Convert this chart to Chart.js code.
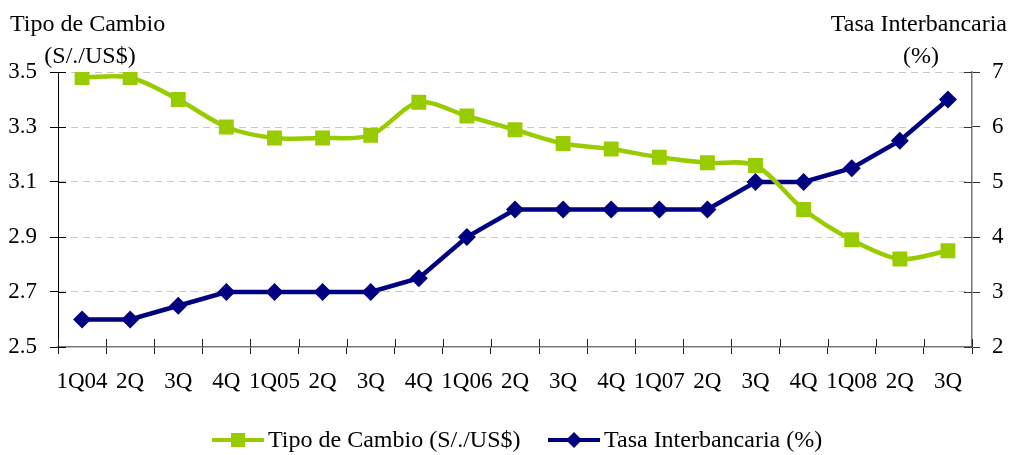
<!DOCTYPE html>
<html>
<head>
<meta charset="utf-8">
<script src="https://cdn.jsdelivr.net/npm/chart.js@4.4.1/dist/chart.umd.min.js"></script>
<style>
html,body{margin:0;padding:0;background:#fff;}
#wrap{width:1010px;height:455px;position:relative;}
</style>
</head>
<body>
<div id="wrap"><canvas id="c" width="1010" height="455"></canvas></div>
<script>
const categories = ["1Q04","2Q","3Q","4Q","1Q05","2Q","3Q","4Q","1Q06","2Q","3Q","4Q","1Q07","2Q","3Q","4Q","1Q08","2Q","3Q"];
const tipoCambio = [3.48,3.48,3.40,3.30,3.26,3.26,3.27,3.39,3.34,3.29,3.24,3.22,3.19,3.17,3.16,3.00,2.89,2.82,2.85];
const tasaInterbancaria = [2.5,2.5,2.75,3.0,3.0,3.0,3.0,3.25,4.0,4.5,4.5,4.5,4.5,4.5,5.0,5.0,5.25,5.75,6.5];
const leftTicks = [2.5,2.7,2.9,3.1,3.3,3.5];
const rightTicks = [2,3,4,5,6,7];
const seriesNames = ["Tipo de Cambio (S/./US$)","Tasa Interbancaria (%)"];
const leftTitle = ["Tipo de Cambio","(S/./US$)"];
const rightTitle = ["Tasa Interbancaria","(%)"];

const GREEN = '#99CC00', BLUE = '#000080';
const FONT = '"Liberation Serif", "DejaVu Serif", serif';
const FS = 23;

const titlesPlugin = {
  id: 'titles',
  afterDraw(chart) {
    const ctx = chart.ctx;
    const a = chart.chartArea;
    ctx.save();
    // inner halves of crossing tick marks
    ctx.lineWidth = 1;
    ctx.strokeStyle = '#222';
    for (let i = 0; i <= categories.length; i++) {
      const px = Math.round(a.left + (a.right - a.left) * i / categories.length) + 0.5;
      ctx.beginPath(); ctx.moveTo(px, a.bottom - 8); ctx.lineTo(px, a.bottom); ctx.stroke();
    }
    const ys = chart.scales.y;
    ctx.strokeStyle = '#000';
    leftTicks.forEach(v => {
      const py = Math.round(ys.getPixelForValue(v)) + 0.5;
      ctx.beginPath(); ctx.moveTo(a.left, py); ctx.lineTo(a.left + 8, py); ctx.stroke();
    });
    const ys1 = chart.scales.y1;
    ctx.strokeStyle = '#333';
    rightTicks.forEach(v => {
      const py = Math.round(ys1.getPixelForValue(v)) + 0.5;
      ctx.beginPath(); ctx.moveTo(a.right - 8, py); ctx.lineTo(a.right, py); ctx.stroke();
    });

    ctx.fillStyle = '#000';
    ctx.font = (FS + 1) + 'px ' + FONT;
    ctx.textBaseline = 'alphabetic';
    ctx.textAlign = 'left';
    ctx.fillText(leftTitle[0], 10, 31);
    ctx.textAlign = 'center';
    ctx.fillText(leftTitle[1], 90, 63);
    ctx.textAlign = 'right';
    ctx.fillText(rightTitle[0], 1007, 31);
    ctx.textAlign = 'center';
    ctx.fillText(rightTitle[1], 921, 63);

    // legend
    const ly = 440;
    ctx.font = (FS + 1) + 'px ' + FONT;
    ctx.textAlign = 'left';
    ctx.textBaseline = 'middle';
    const items = [
      {x: 212, color: GREEN, style: 'rect', text: seriesNames[0]},
      {x: 548, color: BLUE, style: 'rectRot', text: seriesNames[1]}
    ];
    items.forEach(it => {
      ctx.strokeStyle = it.color;
      ctx.lineWidth = 4;
      ctx.beginPath();
      ctx.moveTo(it.x, ly);
      ctx.lineTo(it.x + 52, ly);
      ctx.stroke();
      ctx.fillStyle = it.color;
      const cx = it.x + 26;
      if (it.style === 'rect') {
        ctx.fillRect(cx - 7, ly - 7, 14, 14);
      } else {
        ctx.beginPath();
        ctx.moveTo(cx, ly - 8); ctx.lineTo(cx + 8, ly); ctx.lineTo(cx, ly + 8); ctx.lineTo(cx - 8, ly);
        ctx.closePath(); ctx.fill();
      }
      ctx.fillStyle = '#000';
      ctx.fillText(it.text, it.x + 56, ly + 1);
    });
    ctx.restore();
  }
};

new Chart(document.getElementById('c'), {
  type: 'line',
  data: {
    labels: categories,
    datasets: [
      {
        label: seriesNames[0],
        data: tipoCambio,
        yAxisID: 'y',
        borderColor: GREEN,
        backgroundColor: GREEN,
        borderWidth: 4.5,
        pointStyle: 'rect',
        pointRadius: 10.5,
        pointHoverRadius: 10.5,
        pointBorderWidth: 0,
        tension: 0.3
      },
      {
        label: seriesNames[1],
        data: tasaInterbancaria,
        yAxisID: 'y1',
        borderColor: BLUE,
        backgroundColor: BLUE,
        borderWidth: 4.5,
        pointStyle: 'rectRot',
        pointRadius: 9,
        pointHoverRadius: 9,
        pointBorderWidth: 0,
        tension: 0
      }
    ]
  },
  options: {
    responsive: false,
    animation: false,
    events: [],
    layout: {padding: {top: 72, bottom: 48, left: 0, right: 0}},
    plugins: {legend: {display: false}, tooltip: {enabled: false}, title: {display: false}},
    scales: {
      x: {
        type: 'category',
        offset: true,
        grid: {offset: true, drawOnChartArea: false, tickLength: 7, tickColor: '#222', tickWidth: 1},
        border: {color: '#777', width: 1.5},
        ticks: {font: {family: FONT, size: FS}, color: '#000', padding: 14, maxRotation: 0, autoSkip: false},
        afterFit(s) { s.height = 60; }
      },
      y: {
        position: 'left',
        min: 2.5, max: 3.5,
        afterBuildTicks(s) { s.ticks = leftTicks.map(v => ({value: v})); },
        grid: {
          color: (c) => c.tick && c.tick.value === 2.5 ? 'rgba(0,0,0,0)' : '#c8c8c8',
          tickColor: '#000',
          tickLength: 8,
          lineWidth: 1
        },
        border: {color: '#000', width: 1, dash: [7, 5]},
        ticks: {font: {family: FONT, size: FS}, color: '#000', padding: 13, callback: v => v.toFixed(1)},
        afterFit(s) { s.width = 58; }
      },
      y1: {
        position: 'right',
        min: 2, max: 7,
        afterBuildTicks(s) { s.ticks = rightTicks.map(v => ({value: v})); },
        grid: {drawOnChartArea: false, tickLength: 8, tickColor: '#333'},
        border: {color: '#777', width: 1.5},
        ticks: {font: {family: FONT, size: FS}, color: '#000', padding: 12, callback: v => String(v)},
        afterFit(s) { s.width = 38; }
      }
    }
  },
  plugins: [titlesPlugin]
});
</script>
</body>
</html>
